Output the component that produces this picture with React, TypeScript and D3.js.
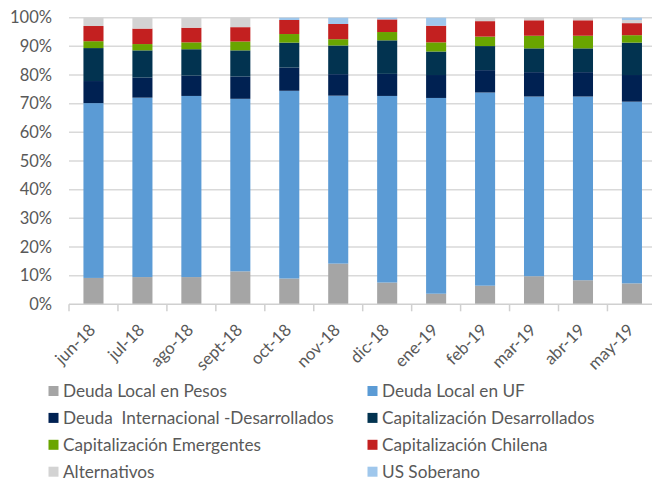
import React from "react";
import * as d3 from "d3";

const months = ["jun-18", "jul-18", "ago-18", "sept-18", "oct-18", "nov-18", "dic-18", "ene-19", "feb-19", "mar-19", "abr-19", "may-19"];

const seriesNames = [
  "Deuda Local en Pesos",
  "Deuda Local en UF",
  "Deuda  Internacional -Desarrollados",
  "Capitalización Desarrollados",
  "Capitalización Emergentes",
  "Capitalización Chilena",
  "Alternativos",
  "US Soberano",
];

const deudaPesos = [9.2, 9.5, 9.5, 11.5, 9.0, 14.2, 7.6, 3.7, 6.5, 9.8, 8.4, 7.3];
const deudaUF = [61.0, 62.6, 63.2, 60.2, 65.5, 58.6, 65.1, 68.3, 67.4, 62.7, 64.1, 63.4];
const deudaIntl = [7.7, 7.0, 7.1, 7.8, 8.1, 7.5, 7.7, 8.0, 7.8, 8.5, 8.5, 9.3];
const capDesarrollados = [11.5, 9.5, 9.2, 9.1, 8.7, 10.0, 11.7, 8.2, 8.4, 8.3, 8.3, 11.3];
const capEmergentes = [2.4, 2.2, 2.4, 3.1, 3.0, 2.2, 2.9, 3.2, 3.3, 4.4, 4.4, 2.6];
const capChilena = [5.3, 5.4, 5.1, 5.0, 4.9, 5.3, 4.4, 5.8, 5.4, 5.4, 5.4, 4.2];
const alternativos = [2.9, 3.8, 3.5, 3.3, 0, 0, 0, 0, 1.2, 0.9, 0.9, 1.1];
const usSoberano = [0, 0, 0, 0, 0.8, 2.2, 0.6, 2.8, 0, 0, 0, 0.8];

const yTicks = [0, 10, 20, 30, 40, 50, 60, 70, 80, 90, 100];

const colors = ["#a5a5a5", "#5b9bd5", "#002152", "#023350", "#69a500", "#c32020", "#d3d3d3", "#9fc7ec"];

const FONT = "Lato, 'Open Sans', sans-serif";
const TEXT = "#595959";

export default function App() {
  const width = 652;
  const height = 481;
  const left = 69;
  const right = 656.4;
  const top = 17.7;
  const bottom = 304.3;

  const allSeries = [deudaPesos, deudaUF, deudaIntl, capDesarrollados, capEmergentes, capChilena, alternativos, usSoberano];
  const rows = months.map((m, i) => {
    const r: any = { month: m };
    seriesNames.forEach((s, j) => (r[s] = allSeries[j][i]));
    return r;
  });

  const stacked = d3.stack().keys(seriesNames)(rows);

  const x = d3.scaleBand().domain(months).range([left, right]).paddingInner(0.59).paddingOuter(0.295);
  const xCat = d3.scaleBand().domain(months).range([left, right]).padding(0);
  const y = d3.scaleLinear().domain([0, 100]).range([bottom, top]);

  const boundaries = months.map((m) => xCat(m) as number).concat([right]);

  return (
    <svg width={width} height={height} style={{ position: "absolute", left: 0, top: 0 }}>
      <rect width={width} height={height} fill="#fff" />
      {/* grid */}
      {yTicks.slice(1).map((t) => (
        <line key={t} x1={left} x2={width} y1={y(t)} y2={y(t)} stroke="#d9d9d9" strokeWidth={1.5} />
      ))}
      {/* y labels */}
      {yTicks.map((t) => (
        <text key={t} x={52} y={y(t)} dy="0.35em" textAnchor="end" fontSize={16.5} fontFamily={FONT} fill={TEXT}>
          {t}%
        </text>
      ))}
      {/* bars */}
      {stacked.map((layer, j) => (
        <g key={layer.key} fill={colors[j]}>
          {layer.map((d, i) => {
            const h = y(d[0]) - y(d[1]);
            if (h <= 0) return null;
            return <rect key={i} x={x(months[i])} y={y(d[1])} width={x.bandwidth()} height={h} />;
          })}
        </g>
      ))}
      {/* x axis */}
      <line x1={left} x2={width} y1={bottom} y2={bottom} stroke="#d0d0d0" strokeWidth={1.5} />
      {boundaries.map((b, i) => (
        <line key={i} x1={b} x2={b} y1={bottom} y2={bottom + 7} stroke="#d0d0d0" strokeWidth={1.5} />
      ))}
      {months.map((m) => {
        const cx = (xCat(m) as number) + xCat.bandwidth() / 2 + 3;
        const cy = 331;
        return (
          <text key={m} x={cx} y={cy} textAnchor="end" fontSize={16.8} fontFamily={FONT} fill={TEXT} transform={`rotate(-45 ${cx} ${cy})`}>
            {m}
          </text>
        );
      })}
      {/* legend */}
      {seriesNames.map((s, j) => {
        const col = j % 2;
        const row = Math.floor(j / 2);
        const lx = col === 0 ? 48.5 : 367.5;
        const ly = 391 + row * 26.9;
        return (
          <g key={s}>
            <rect x={lx} y={ly - 5} width={10} height={10} fill={colors[j]} />
            <text x={lx + 14.5} y={ly} dy="0.35em" fontSize={17.2} fontFamily={FONT} fill={TEXT} style={{ whiteSpace: "pre" }}>
              {s}
            </text>
          </g>
        );
      })}
    </svg>
  );
}
